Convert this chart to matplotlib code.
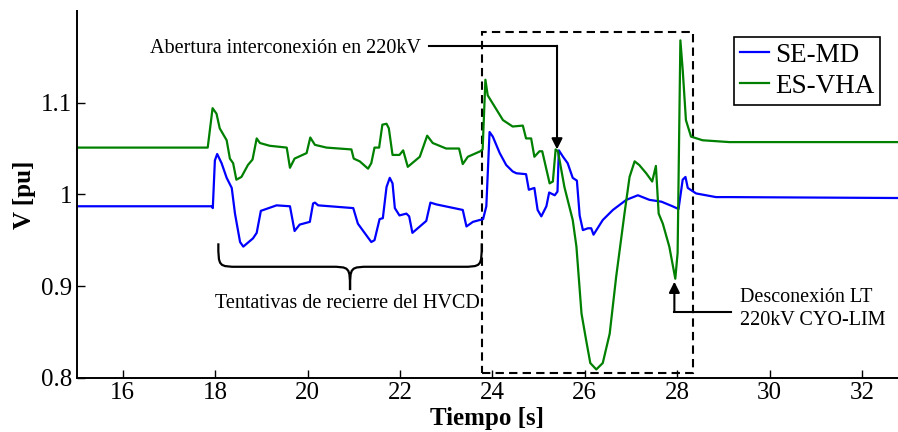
import matplotlib
matplotlib.use("Agg")
import matplotlib.pyplot as plt
from matplotlib.path import Path
from matplotlib.patches import PathPatch, Rectangle
import numpy as np

# ---- data ----
t_vha = [15.00, 17.84, 17.945, 18.03, 18.10, 18.25, 18.32, 18.39, 18.46, 18.57,
         18.71, 18.81, 18.90, 18.97, 19.18, 19.55, 19.62, 19.72, 19.98, 20.06,
         20.16, 20.41, 20.95, 21.00, 21.13, 21.31, 21.38, 21.45, 21.55, 21.62,
         21.71, 21.76, 21.84, 21.99, 22.07, 22.17, 22.43, 22.59, 22.71, 23.00,
         23.28, 23.36, 23.47, 23.74, 23.79, 23.85, 23.90, 24.01, 24.23, 24.44,
         24.66, 24.73, 24.84, 24.91, 25.02, 25.08, 25.24, 25.31, 25.37, 25.42,
         25.56, 25.74, 25.82, 25.93, 26.03, 26.12, 26.25, 26.39, 26.54, 26.68,
         26.86, 26.97, 27.08, 27.18, 27.33, 27.46, 27.54, 27.60, 27.69, 27.83,
         27.96, 28.01, 28.07, 28.12, 28.19, 28.30, 28.55, 29.13, 32.80]
v_vha = [1.051, 1.051, 1.094, 1.088, 1.072, 1.059, 1.039, 1.034, 1.016, 1.019,
         1.032, 1.038, 1.061, 1.056, 1.053, 1.051, 1.029, 1.039, 1.045, 1.062,
         1.054, 1.051, 1.049, 1.039, 1.036, 1.028, 1.034, 1.051, 1.051, 1.076,
         1.077, 1.072, 1.043, 1.043, 1.048, 1.030, 1.041, 1.064, 1.056, 1.050,
         1.050, 1.033, 1.041, 1.047, 1.049, 1.125, 1.108, 1.099, 1.081, 1.074,
         1.075, 1.061, 1.061, 1.041, 1.047, 1.047, 1.012, 1.014, 1.049, 1.047,
         1.008, 0.972, 0.943, 0.870, 0.841, 0.816, 0.809, 0.816, 0.848, 0.910,
         0.979, 1.019, 1.036, 1.032, 1.023, 1.014, 1.031, 0.979, 0.968, 0.943,
         0.908, 0.936, 1.168, 1.136, 1.081, 1.063, 1.059, 1.057, 1.057]

t_md = [15.00, 17.92, 17.95, 17.995, 18.045, 18.14, 18.25, 18.36, 18.43, 18.54,
        18.61, 18.82, 18.90, 18.99, 19.33, 19.62, 19.72, 19.83, 20.05, 20.12,
        20.16, 20.23, 20.99, 21.09, 21.38, 21.45, 21.56, 21.63, 21.71, 21.78,
        21.84, 21.89, 21.99, 22.14, 22.20, 22.27, 22.57, 22.66, 22.79, 23.36,
        23.44, 23.58, 23.80, 23.87, 23.94, 24.01, 24.16, 24.30, 24.44, 24.52,
        24.73, 24.79, 24.91, 24.98, 25.06, 25.17, 25.23, 25.35, 25.41, 25.44,
        25.53, 25.63, 25.74, 25.83, 25.89, 25.96, 26.07, 26.14, 26.19, 26.39,
        26.61, 26.90, 27.15, 27.40, 27.66, 27.90, 28.03, 28.12, 28.18, 28.23,
        28.41, 28.84, 29.13, 32.80]
v_md = [0.987, 0.987, 0.985, 1.037, 1.044, 1.034, 1.018, 1.007, 0.979, 0.948,
        0.943, 0.952, 0.958, 0.982, 0.988, 0.987, 0.960, 0.967, 0.970, 0.990,
        0.991, 0.988, 0.985, 0.968, 0.948, 0.950, 0.973, 0.974, 1.008, 1.018,
        1.012, 0.985, 0.977, 0.979, 0.976, 0.958, 0.971, 0.991, 0.989, 0.983,
        0.965, 0.970, 0.973, 0.987, 1.068, 1.063, 1.045, 1.032, 1.025, 1.023,
        1.022, 1.005, 1.007, 0.983, 0.976, 0.987, 1.002, 0.999, 1.003, 1.048,
        1.041, 1.034, 1.018, 1.015, 0.977, 0.961, 0.963, 0.963, 0.956, 0.972,
        0.983, 0.994, 0.999, 0.994, 0.992, 0.987, 0.984, 1.016, 1.019, 1.007,
        1.001, 0.997, 0.997, 0.996]

series_labels = ["SE-MD", "ES-VHA"]
x_ticks = [16, 18, 20, 22, 24, 26, 28, 30, 32]
y_ticks = [0.8, 0.9, 1.0, 1.1]
y_ticklabels = ["0.8", "0.9", "1", "1.1"]

# ---- style ----
plt.rcParams['font.family'] = ['Liberation Serif', 'DejaVu Serif']

W, H = 898, 432
fig = plt.figure(figsize=(W / 100, H / 100), dpi=100)
ax_l, ax_b, ax_r, ax_t = 76.5, 377.7, 898.0, 11.0
ax = fig.add_axes([ax_l / W, 1 - ax_b / H, (ax_r - ax_l) / W, (ax_b - ax_t) / H])

ax.plot(t_md, v_md, color=(0, 0, 1), lw=1.6, label=series_labels[0])
ax.plot(t_vha, v_vha, color=(0, 0.5, 0), lw=1.6, label=series_labels[1])

ax.set_xlim(15, 32.78)
ax.set_ylim(0.8, 1.2)
ax.set_xticks(x_ticks)
ax.set_yticks(y_ticks)
ax.set_yticklabels(y_ticklabels)
ax.tick_params(direction='in', length=6, width=1.0, labelsize=18, pad=3,
               top=False, right=False)
for s in ['top', 'right']:
    ax.spines[s].set_visible(False)
for s in ['left', 'bottom']:
    ax.spines[s].set_linewidth(1.4)

ax.set_xlabel('Tiempo [s]', fontsize=18, fontweight='bold', labelpad=2)
ax.set_ylabel('V [pu]', fontsize=18, fontweight='bold', labelpad=4)

# dashed box
ax.add_patch(Rectangle((23.77, 0.8048), 28.35 - 23.77, 1.177 - 0.8048,
                       fill=False, ls=(0, (4, 2.5)), lw=1.5, ec='k'))

# legend
leg = ax.legend(loc='upper left', bbox_to_anchor=(0.80, 0.93), fontsize=19.5,
                frameon=True, fancybox=False, framealpha=1, edgecolor='k',
                borderaxespad=0, handlelength=1.1, handletextpad=0.2,
                borderpad=0.22, labelspacing=0.22)
leg.get_frame().set_linewidth(1.2)

# annotation 1: Abertura interconexión
ax.plot([22.64, 25.40], [1.162, 1.162], color='k', lw=1.5)
ax.annotate('', xy=(25.40, 1.049), xytext=(25.40, 1.162),
            arrowprops=dict(arrowstyle='-|>', color='k', lw=1.5,
                            mutation_scale=16, shrinkA=0, shrinkB=0))
ax.text(22.45, 1.154, 'Abertura interconexión en 220kV', fontsize=14.5,
        ha='right', va='baseline')

# annotation 2: Desconexión LT
ax.plot([29.17, 27.94], [0.872, 0.872], color='k', lw=1.5)
ax.annotate('', xy=(27.94, 0.9047), xytext=(27.94, 0.872),
            arrowprops=dict(arrowstyle='-|>', color='k', lw=1.5,
                            mutation_scale=16, shrinkA=0, shrinkB=0))
ax.text(29.35, 0.8830, 'Desconexión LT', fontsize=14.5, ha='left', va='baseline')
ax.text(29.35, 0.8575, '220kV CYO-LIM', fontsize=14.5, ha='left', va='baseline')

# curly brace
xl, xr, xc = 18.07, 23.77, 20.92
yt, ym, yb = 0.9466, 0.921, 0.8956
rx, cx = 0.45, 0.45
verts = [(xl, yt), (xl, ym), (xl, ym), (xl + rx, ym),
         (xc - cx, ym),
         (xc, ym), (xc, ym), (xc, yb),
         (xc, ym), (xc, ym), (xc + cx, ym),
         (xr - rx, ym),
         (xr, ym), (xr, ym), (xr, yt)]
codes = [Path.MOVETO, Path.CURVE4, Path.CURVE4, Path.CURVE4,
         Path.LINETO,
         Path.CURVE4, Path.CURVE4, Path.CURVE4,
         Path.CURVE4, Path.CURVE4, Path.CURVE4,
         Path.LINETO,
         Path.CURVE4, Path.CURVE4, Path.CURVE4]
ax.add_patch(PathPatch(Path(verts, codes), fill=False, lw=1.6, ec='k'))
ax.text(xc - 0.05, 0.8757, 'Tentativas de recierre del HVCD', fontsize=14.5,
        ha='center', va='baseline')

fig.savefig('out.png', dpi=100)
